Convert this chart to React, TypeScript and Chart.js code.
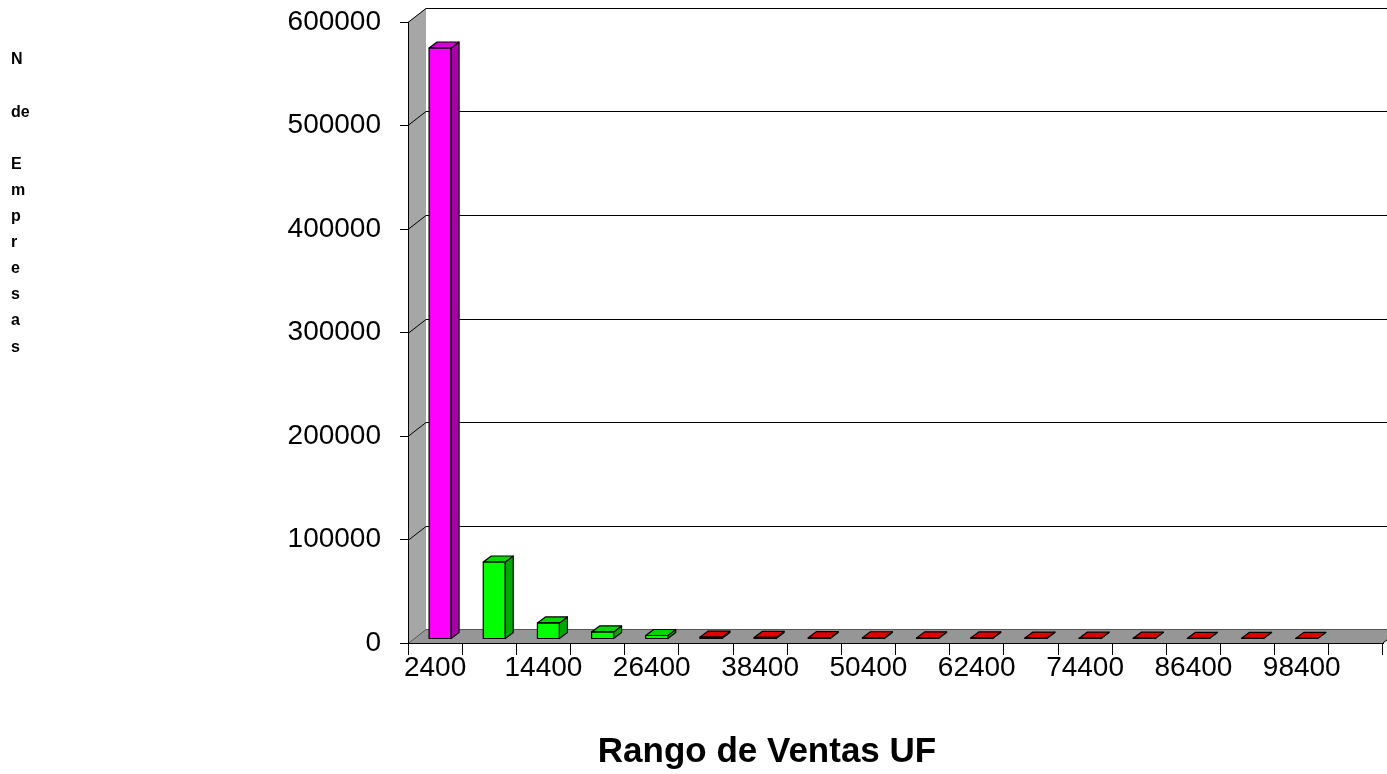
import React, { useEffect, useRef } from "react";
import { Chart, registerables } from "chart.js";

Chart.register(...registerables);

const categories = [
  "2400", "8400", "14400", "20400", "26400", "32400", "38400", "44400", "50400",
  "56400", "62400", "68400", "74400", "80400", "86400", "92400", "98400", "104400",
];
const empresas = [
  571000, 74400, 15500, 6800, 3400, 1800, 1500, 1300, 1200,
  1100, 1000, 900, 800, 750, 700, 650, 600, null,
];
const frontColors = [
  "#FF00FF", "#00FF00", "#00FF00", "#00FF00", "#00FF00",
  "#CC0000", "#CC0000", "#CC0000", "#CC0000", "#CC0000", "#CC0000",
  "#CC0000", "#CC0000", "#CC0000", "#CC0000", "#CC0000", "#CC0000", "#CC0000",
];
const sideColors = [
  "#A800A8", "#00A800", "#00A800", "#00A800", "#00A800",
  "#800000", "#800000", "#800000", "#800000", "#800000", "#800000",
  "#800000", "#800000", "#800000", "#800000", "#800000", "#800000", "#800000",
];
const topColors = [
  "#D800D8", "#00D800", "#00D800", "#00D800", "#00D800",
  "#E00000", "#E00000", "#E00000", "#E00000", "#E00000", "#E00000",
  "#E00000", "#E00000", "#E00000", "#E00000", "#E00000", "#E00000", "#E00000",
];
const yLabelLines = ["N", "", "de", "", "E", "m", "p", "r", "e", "s", "a", "s"];
const xTitle = "Rango de Ventas UF";

const FONT = "'Liberation Sans', Arial, sans-serif";
const WALL_DX = 18;
const WALL_DY = -14;
const BAR_DX = 5;
const BAR_DY = -4;
const BAR_DEPTH_X = 8;
const BAR_DEPTH_Y = -6;

const wallPlugin = {
  id: "wall3d",
  beforeDraw(chart: any) {
    const { ctx, chartArea, scales } = chart;
    const { left, right, top, bottom } = chartArea;
    const y = scales.y;
    ctx.save();
    ctx.fillStyle = "#A6A6A6";
    ctx.beginPath();
    ctx.moveTo(left, top);
    ctx.lineTo(left + WALL_DX, top + WALL_DY);
    ctx.lineTo(left + WALL_DX, bottom + WALL_DY);
    ctx.lineTo(left, bottom);
    ctx.closePath();
    ctx.fill();
    ctx.fillStyle = "#969696";
    ctx.beginPath();
    ctx.moveTo(left, bottom);
    ctx.lineTo(left + WALL_DX, bottom + WALL_DY);
    ctx.lineTo(right + WALL_DX, bottom + WALL_DY);
    ctx.lineTo(right, bottom);
    ctx.closePath();
    ctx.fill();
    ctx.lineWidth = 1;
    y.ticks.forEach((t: any) => {
      const py = Math.round(y.getPixelForValue(t.value)) + 0.5;
      ctx.strokeStyle = t.value === 0 ? "#555555" : "#000000";
      ctx.beginPath();
      ctx.moveTo(left, py);
      ctx.lineTo(left + WALL_DX, py + WALL_DY);
      ctx.lineTo(right + WALL_DX + 20, py + WALL_DY);
      ctx.stroke();
    });
    ctx.strokeStyle = "#000000";
    ctx.beginPath();
    ctx.moveTo(right, bottom);
    ctx.lineTo(right + WALL_DX, bottom + WALL_DY);
    ctx.stroke();
    ctx.restore();
  },
  beforeDatasetsDraw(chart: any) {
    chart.ctx.save();
    chart.ctx.translate(BAR_DX, BAR_DY);
  },
  afterDatasetsDraw(chart: any) {
    const { ctx } = chart;
    const meta = chart.getDatasetMeta(0);
    ctx.lineWidth = 1.2;
    ctx.strokeStyle = "#000000";
    ctx.lineJoin = "round";
    meta.data.forEach((bar: any, i: number) => {
      if (empresas[i] == null) return;
      const p = bar.getProps(["x", "y", "base", "width"], true);
      const l = p.x - p.width / 2;
      const r = p.x + p.width / 2;
      const t = p.y;
      const b = p.base;
      ctx.fillStyle = sideColors[i];
      ctx.beginPath();
      ctx.moveTo(r, t);
      ctx.lineTo(r + BAR_DEPTH_X, t + BAR_DEPTH_Y);
      ctx.lineTo(r + BAR_DEPTH_X, b + BAR_DEPTH_Y);
      ctx.lineTo(r, b);
      ctx.closePath();
      ctx.fill();
      ctx.stroke();
      ctx.fillStyle = topColors[i];
      ctx.beginPath();
      ctx.moveTo(l, t);
      ctx.lineTo(l + BAR_DEPTH_X, t + BAR_DEPTH_Y);
      ctx.lineTo(r + BAR_DEPTH_X, t + BAR_DEPTH_Y);
      ctx.lineTo(r, t);
      ctx.closePath();
      ctx.fill();
      ctx.stroke();
      ctx.strokeRect(l, t, r - l, b - t);
    });
    ctx.restore();
  },
  afterDraw(chart: any) {
    const { ctx } = chart;
    ctx.save();
    ctx.fillStyle = "#000000";
    ctx.textBaseline = "middle";
    ctx.textAlign = "center";
    ctx.font = `bold 35px ${FONT}`;
    ctx.fillText(xTitle, 767, 752);
    ctx.textAlign = "left";
    ctx.font = `bold 16px ${FONT}`;
    yLabelLines.forEach((s, i) => {
      if (s) ctx.fillText(s, 11, 60 + i * 26.1);
    });
    ctx.restore();
  },
};

export default function App() {
  const ref = useRef<HTMLCanvasElement | null>(null);
  useEffect(() => {
    if (!ref.current) return;
    const chart = new Chart(ref.current, {
      type: "bar",
      data: {
        labels: categories,
        datasets: [
          {
            data: empresas as any,
            backgroundColor: frontColors,
            borderWidth: 0,
            barPercentage: 0.406,
            categoryPercentage: 1,
          },
        ],
      },
      options: {
        responsive: false,
        animation: false,
        layout: { padding: { top: 22, right: 4, left: 0, bottom: 0 } },
        plugins: {
          legend: { display: false },
          tooltip: { enabled: false },
          title: { display: false },
        },
        scales: {
          x: {
            type: "category",
            offset: true,
            afterFit(scale: any) {
              scale.height = 131;
              scale.paddingLeft = 0;
              scale.paddingRight = 0;
            },
            grid: {
              display: true,
              offset: true,
              drawOnChartArea: false,
              drawTicks: true,
              tickLength: 12,
              color: "#000000",
              lineWidth: 1,
            },
            border: { display: true, color: "#000000", width: 1 },
            ticks: {
              autoSkip: false,
              maxRotation: 0,
              minRotation: 0,
              padding: -4,
              color: "#000000",
              font: { family: FONT, size: 28 },
              callback: (_v: any, i: number) => (i % 2 === 0 ? categories[i] : ""),
            },
          },
          y: {
            min: 0,
            max: 600000,
            afterFit(scale: any) {
              scale.width = 408;
              scale.paddingTop = 0;
              scale.paddingBottom = 0;
            },
            grid: {
              display: true,
              drawOnChartArea: false,
              drawTicks: true,
              tickLength: 8,
              color: "#000000",
              lineWidth: 1,
            },
            border: { display: true, color: "#000000", width: 1 },
            ticks: {
              stepSize: 100000,
              padding: 19,
              color: "#000000",
              font: { family: FONT, size: 28 },
              callback: (v: any) => String(v),
            },
          },
        },
      },
      plugins: [wallPlugin],
    });
    return () => chart.destroy();
  }, []);
  return (
    <div style={{ position: "fixed", left: 0, top: 0, width: 1387, height: 774, background: "#ffffff" }}>
      <canvas ref={ref} width={1387} height={774} style={{ display: "block" }} />
    </div>
  );
}
